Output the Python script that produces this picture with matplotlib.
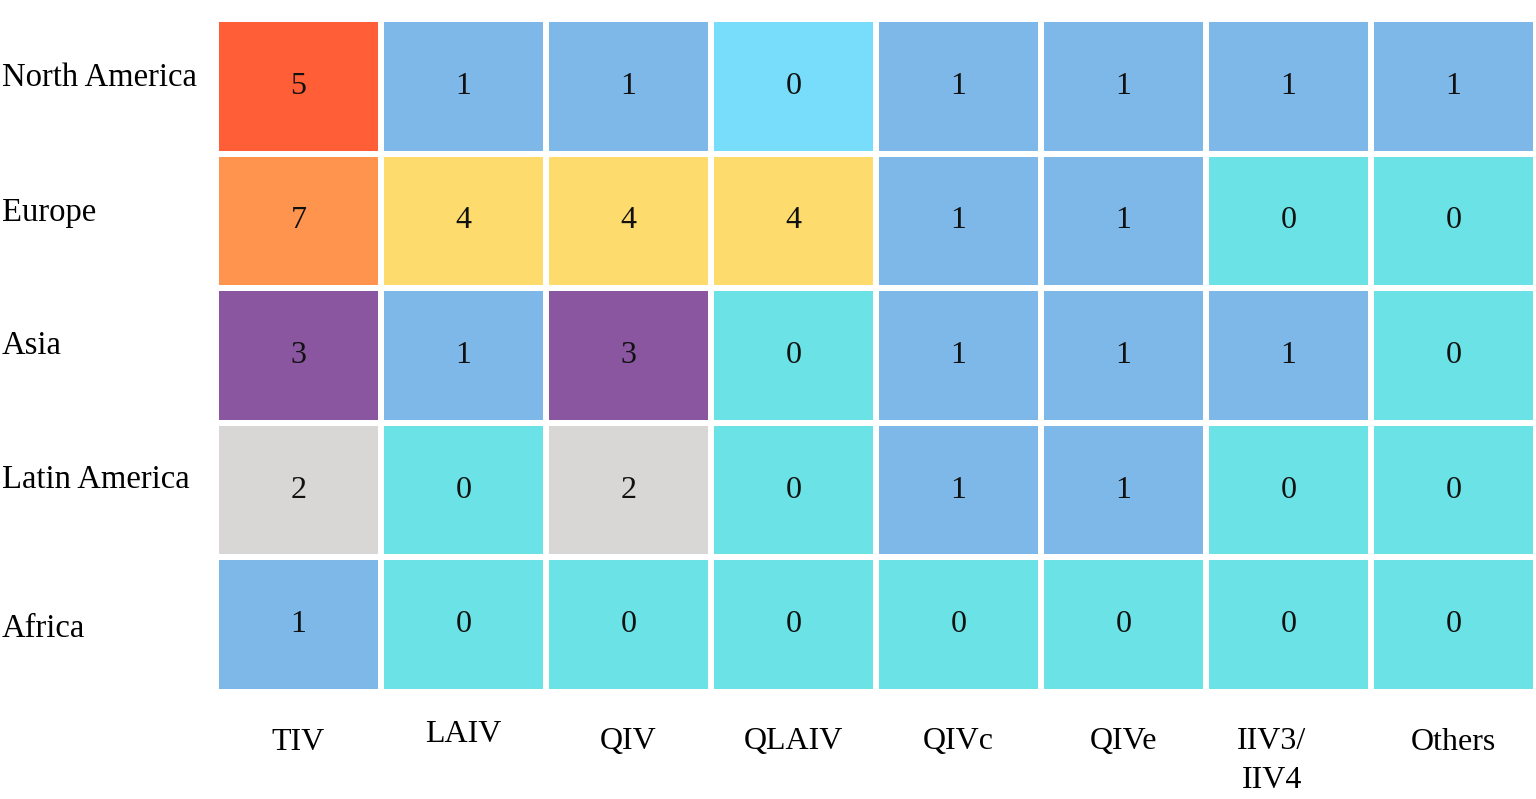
import numpy as np
import matplotlib
matplotlib.use("Agg")
import matplotlib.pyplot as plt
from matplotlib.colors import ListedColormap
from matplotlib.transforms import blended_transform_factory

regions = ["North America", "Europe", "Asia", "Latin America", "Africa"]
vaccines = ["TIV", "LAIV", "QIV", "QLAIV", "QIVc", "QIVe", "IIV3/\nIIV4", "Others"]
counts = np.array([
    [5, 1, 1, 0, 1, 1, 1, 1],
    [7, 4, 4, 4, 1, 1, 0, 0],
    [3, 1, 3, 0, 1, 1, 1, 0],
    [2, 0, 2, 0, 1, 1, 0, 0],
    [1, 0, 0, 0, 0, 0, 0, 0],
])

# colour per value, plus the one odd cell (North America / QLAIV) in light sky blue
value_colors = {0: "#6be3e6", 1: "#7db8e8", 2: "#d9d7d6", 3: "#8a56a0",
                4: "#fddb6d", 5: "#ff5e36", 7: "#ff944e"}
special_color = "#77ddfa"
special_cell = (0, 3)

plt.rcParams["font.family"] = ["Liberation Serif", "DejaVu Serif"]

palette = list(value_colors.values()) + [special_color]
keys = list(value_colors.keys())
idx = np.vectorize(lambda v: keys.index(v))(counts).astype(float)
idx[special_cell] = len(palette) - 1
cmap = ListedColormap(palette)

fig = plt.figure(figsize=(15.36, 7.99), dpi=100)
W, H = 1536, 799
ax = fig.add_axes([216 / W, 1 - 692 / H, (1536 - 216) / W, (692 - 19) / H])

ax.pcolormesh(idx, cmap=cmap, vmin=-0.5, vmax=len(palette) - 0.5,
              edgecolors="white", linewidth=4.3)
ax.set_xlim(0, counts.shape[1])
ax.set_ylim(counts.shape[0], 0)
ax.axis("off")

for i in range(counts.shape[0]):
    for j in range(counts.shape[1]):
        ax.text(j + 0.5, i + 0.5, str(counts[i, j]), ha="center", va="center",
                fontsize=23, color="#111111")

# row labels, left of the grid
row_tr = blended_transform_factory(fig.transFigure, ax.transData)
row_shift = [-0.06, -0.06, -0.07, -0.08, 0.03]
for i, name in enumerate(regions):
    fig.text(2 / W, i + 0.5 + row_shift[i], name, fontsize=23.5, ha="left",
             va="center", transform=row_tr)

# column labels below
col_tr = blended_transform_factory(ax.transData, fig.transFigure)
col_y = [742, 734, 742, 742, 742, 742, 727, 742]
for j, name in enumerate(vaccines):
    if "\n" in name:
        ax.text(j + 0.5 - 0.1, 1 - col_y[j] / H, name, fontsize=23, ha="center",
                va="top", transform=col_tr, linespacing=1.45)
    else:
        ax.text(j + 0.5, 1 - col_y[j] / H, name, fontsize=23, ha="center",
                va="center", transform=col_tr)

fig.savefig("out.png", dpi=100)
